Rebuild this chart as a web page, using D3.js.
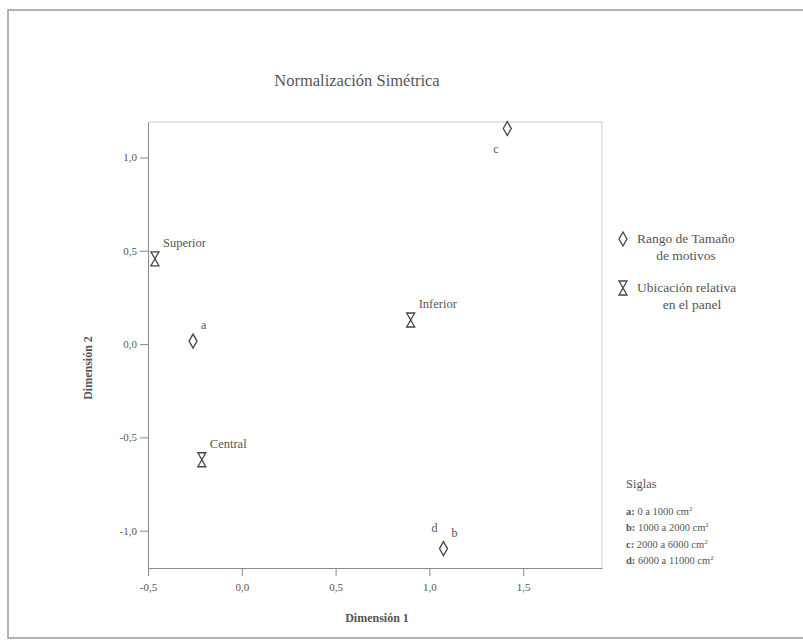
<!DOCTYPE html>
<html>
<head>
<meta charset="utf-8">
<script src="https://cdn.jsdelivr.net/npm/d3@7"></script>
<style>
  body { margin: 0; background: #fff; }
  text { font-family: "Liberation Serif", "DejaVu Serif", serif; fill: #555; }
</style>
</head>
<body>
<div id="chart"></div>
<script>
// point data
const rangoLabels = ["a", "b", "c", "d"];
const rangoX = [-0.26, 1.075, 1.415, 1.075];
const rangoY = [0.016, -1.096, 1.155, -1.096];

const ubicLabels = ["Superior", "Inferior", "Central"];
const ubicX = [-0.463, 0.9, -0.213];
const ubicY = [0.457, 0.129, -0.62];

const xTicks = [-0.5, 0.0, 0.5, 1.0, 1.5];
const yTicks = [-1.0, -0.5, 0.0, 0.5, 1.0];

const siglas = [
  ["a:", " 0 a 1000 cm"],
  ["b:", " 1000 a 2000 cm"],
  ["c:", " 2000 a 6000 cm"],
  ["d:", " 6000 a 11000 cm"]
];

const width = 803, height = 644;
const margin = {top: 122, right: 201, bottom: 76, left: 148};
const innerW = width - margin.left - margin.right;
const innerH = height - margin.top - margin.bottom;

const svg = d3.select("#chart").append("svg")
  .attr("width", width)
  .attr("height", height);

// outer frame of the figure
svg.append("rect")
  .attr("x", 8).attr("y", 10)
  .attr("width", 800).attr("height", 628)
  .attr("fill", "none")
  .attr("stroke", "#999")
  .attr("stroke-width", 1.5);

const g = svg.append("g")
  .attr("transform", "translate(" + margin.left + "," + margin.top + ")");

const x = d3.scaleLinear().domain([-0.5, 1.92]).range([0, innerW]);
const y = d3.scaleLinear().domain([-1.2, 1.19]).range([innerH, 0]);

const fmt = d => d3.format(".1f")(d).replace(".", ",").replace("−", "-");

// light box on top/right
g.append("path")
  .attr("d", "M0,0H" + innerW + "V" + innerH)
  .attr("fill", "none")
  .attr("stroke", "#ccc");

const xAxis = d3.axisBottom(x).tickValues(xTicks).tickFormat(fmt).tickSize(8).tickSizeOuter(0);
const yAxis = d3.axisLeft(y).tickValues(yTicks).tickFormat(fmt).tickSize(8).tickSizeOuter(0);

const xg = g.append("g")
  .attr("transform", "translate(0," + innerH + ")")
  .call(xAxis);
const yg = g.append("g").call(yAxis);

[xg, yg].forEach(a => {
  a.select(".domain").attr("stroke", "#888");
  a.selectAll(".tick line").attr("stroke", "#888");
  a.selectAll(".tick text")
    .style("font-family", "Liberation Serif, serif")
    .style("font-size", "11px")
    .attr("fill", "#777");
});
xg.selectAll(".tick text").attr("dy", "1.1em");

// title
svg.append("text")
  .attr("x", 357).attr("y", 86)
  .attr("text-anchor", "middle")
  .style("font-size", "16.5px")
  .text("Normalización Simétrica");

// axis titles
svg.append("text")
  .attr("x", 377).attr("y", 622)
  .attr("text-anchor", "middle")
  .style("font-size", "12px")
  .style("font-weight", "bold")
  .text("Dimensión 1");

svg.append("text")
  .attr("transform", "translate(92,368) rotate(-90)")
  .attr("text-anchor", "middle")
  .style("font-size", "12px")
  .style("font-weight", "bold")
  .text("Dimensión 2");

// symbols
const diamond = "M0,-7L4,0L0,7L-4,0Z";
const hourglass = "M-4,-7H4L0,0L4,7H-4L0,0Z";

const rango = rangoLabels.map((l, i) => ({label: l, x: rangoX[i], y: rangoY[i]}));
const ubic = ubicLabels.map((l, i) => ({label: l, x: ubicX[i], y: ubicY[i]}));

// unique diamond positions (b and d overlap)
g.selectAll(".rango")
  .data(rango.filter(d => d.label != "d"))
  .join("path")
    .attr("class", "rango")
    .attr("transform", d => "translate(" + x(d.x) + "," + y(d.y) + ")")
    .attr("d", diamond)
    .attr("fill", "none")
    .attr("stroke", "#444")
    .attr("stroke-width", 1.3);

const rangoOffsets = {a: [8, -12], b: [8, -12], c: [-14, 24], d: [-12, -17]};
g.selectAll(".rlabel")
  .data(rango)
  .join("text")
    .attr("class", "rlabel")
    .attr("x", d => x(d.x) + rangoOffsets[d.label][0])
    .attr("y", d => y(d.y) + rangoOffsets[d.label][1])
    .style("font-size", "12px")
    .attr("fill", "#777")
    .text(d => d.label);

g.selectAll(".ubic")
  .data(ubic)
  .join("path")
    .attr("class", "ubic")
    .attr("transform", d => "translate(" + x(d.x) + "," + y(d.y) + ")")
    .attr("d", hourglass)
    .attr("fill", "none")
    .attr("stroke", "#444")
    .attr("stroke-width", 1.3);

g.selectAll(".ulabel")
  .data(ubic)
  .join("text")
    .attr("class", "ulabel")
    .attr("x", d => x(d.x) + 8)
    .attr("y", d => y(d.y) - 12)
    .style("font-size", "12.5px")
    .text(d => d.label);

// legend
const leg = svg.append("g");
leg.append("path").attr("transform", "translate(623,239)").attr("d", diamond)
  .attr("fill", "none").attr("stroke", "#444").attr("stroke-width", 1.3);
leg.append("text").attr("x", 637).attr("y", 243).style("font-size", "13.5px").text("Rango de Tamaño");
leg.append("text").attr("x", 686).attr("y", 260).attr("text-anchor", "middle").style("font-size", "13.5px").text("de motivos");
leg.append("path").attr("transform", "translate(623,288)").attr("d", hourglass)
  .attr("fill", "none").attr("stroke", "#444").attr("stroke-width", 1.3);
leg.append("text").attr("x", 637).attr("y", 292).style("font-size", "13.5px").text("Ubicación relativa");
leg.append("text").attr("x", 692).attr("y", 309).attr("text-anchor", "middle").style("font-size", "13.5px").text("en el panel");

leg.append("text").attr("x", 626).attr("y", 488).style("font-size", "12.5px").text("Siglas");

const sg = leg.selectAll(".sigla")
  .data(siglas)
  .join("text")
    .attr("class", "sigla")
    .attr("x", 626)
    .attr("y", (d, i) => 515 + i * 16.3)
    .style("font-size", "10.5px");
sg.append("tspan").style("font-weight", "bold").text(d => d[0]);
sg.append("tspan").text(d => d[1]);
sg.append("tspan").attr("dy", -4).style("font-size", "7px").text("2");
</script>
</body>
</html>
